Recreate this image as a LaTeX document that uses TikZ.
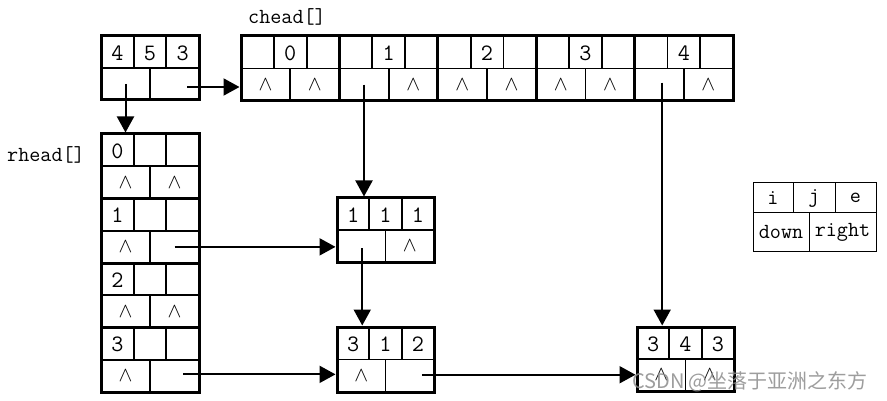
\documentclass[tikz,border=0pt]{standalone}
\usepackage{fontspec}
\newfontfamily\cjkwm{Noto Sans CJK SC}
\usetikzlibrary{arrows.meta,calc}
\tikzset{
  recbox/.style={draw, line width=3pt, inner sep=0pt, outer sep=0pt},
  legbox/.style={draw, line width=1pt, inner sep=0pt, outer sep=0pt},
  innerln/.style={line width=1.8pt},
  legln/.style={line width=1pt},
  txt/.style={font=\fontsize{21.5}{25}\ttfamily, inner sep=0pt},
  celltxt/.style={font=\fontsize{23.5}{27}\ttfamily, inner sep=0pt},
  arr/.style={line width=2pt, shorten >=1.5pt, -{Triangle[length=16pt,width=17pt]}},
}
\def\recH{64}
\newcommand\rec[8]{%
  \begin{scope}[shift={#2}]
    \pgfmathsetmacro\rwA{#3/3}%
    \pgfmathsetmacro\rwB{2*#3/3}%
    \pgfmathsetmacro\rwH{#3/2}%
    \pgfmathsetmacro\rhH{\recH/2}%
    \draw[innerln] (\rwA,0) -- (\rwA,\rhH) (\rwB,0) -- (\rwB,\rhH)
                   (0,\rhH) -- (#3,\rhH) (\rwH,\rhH) -- (\rwH,\recH);
    \node[recbox, minimum width=#3pt, minimum height={\recH pt}, anchor=north west] (#1) at (0,0) {};
    \node[celltxt] at ({\rwA/2},{\rhH/2+1}) {#4};
    \node[celltxt] at ({(\rwA+\rwB)/2},{\rhH/2+1}) {#5};
    \node[celltxt] at ({(\rwB+#3)/2},{\rhH/2+1}) {#6};
    \node[celltxt] at ({\rwH/2},{\rhH*1.5}) {#7};
    \node[celltxt] at ({\rwH*1.5},{\rhH*1.5}) {#8};
    \coordinate (#1-bl) at ({\rwH/2},{\rhH*1.5});
    \coordinate (#1-br) at ({\rwH*1.5},{\rhH*1.5});
  \end{scope}}
\newcommand\nul{\fontsize{21}{25}\selectfont$\wedge$}
\begin{document}
\begin{tikzpicture}[x=1pt,y=-1pt]
  \useasboundingbox[fill=white] (0,0) rectangle (887,401);

  % labels
  \node[txt] (lc) at (287,17) {chead[]};
  \node[txt] (lr) at (46,155) {rhead[]};

  % head node
  \rec{hd}{(101,36)}{98}{4}{5}{3}{}{}

  % chead array
  \def\recH{65}
  \rec{ch0}{(241,36)}{98.4}{}{0}{}{\nul}{\nul}
  \rec{ch1}{(339.4,36)}{98.4}{}{1}{}{}{\nul}
  \rec{ch2}{(437.8,36)}{98.4}{}{2}{}{\nul}{\nul}
  \rec{ch3}{(536.2,36)}{98.4}{}{3}{}{\nul}{\nul}
  \rec{ch4}{(634.6,36)}{98.4}{}{4}{}{}{\nul}

  % rhead array
  \def\recH{64.5}
  \rec{rh0}{(101,134)}{98}{0}{}{}{\nul}{\nul}
  \rec{rh1}{(101,198.5)}{98}{1}{}{}{\nul}{}
  \rec{rh2}{(101,263)}{98}{2}{}{}{\nul}{\nul}
  \rec{rh3}{(101,327.5)}{98}{3}{}{}{\nul}{}

  % element nodes
  \def\recH{64}
  \rec{na}{(337,198)}{97}{1}{1}{1}{}{\nul}
  \def\recH{65}
  \rec{nb}{(337,327)}{97}{3}{1}{2}{\nul}{}
  \def\recH{64}
  \rec{nc}{(637,327)}{97}{3}{4}{3}{\nul}{\nul}

  % legend
  \draw[legln] (793,183) -- (793,213) (835,183) -- (835,213)
               (753,213) -- (876,213) (809,213) -- (809,251);
  \node[legbox, minimum width=123pt, minimum height=68pt, anchor=north west] (leg) at (753,183) {};
  \node[txt] (li) at (773,198) {i};
  \node[txt] (lj) at (814,198) {j};
  \node[txt] (le) at (855.5,198) {e};
  \node[txt] (ld) at (781,232) {down};
  \node[txt] (lrt) at (842.5,232) {right};

  % pointer start points
  \coordinate (s1) at (hd-bl);
  \coordinate (s2) at ($(hd-br)+(12.5,3)$);
  \coordinate (s3) at (ch1-bl);
  \coordinate (s4) at ($(ch4-bl)+(3,-2)$);
  \coordinate (s5) at (rh1-br);
  \coordinate (s6) at ($(na-bl)+(1,2)$);
  \coordinate (s7) at ($(rh3-br)+(8.5,-1.5)$);
  \coordinate (s8) at ($(nb-br)+(12,-1)$);

  % connectors
  \draw[arr] (s1) -- (s1 |- rh0.north);
  \draw[arr] (s2) -- (s2 -| ch0.west);
  \draw[arr] (s3) -- (s3 |- na.north);
  \draw[arr] (s4) -- (s4 |- nc.north);
  \draw[arr] (s5) -- (s5 -| na.west);
  \draw[arr] (s6) -- (s6 |- nb.north);
  \draw[arr] (s7) -- (s7 -| nb.west);
  \draw[arr] (s8) -- (s8 -| nc.west);

  % watermark
  \node[font=\fontsize{20}{24}\cjkwm, text=black!45, opacity=0.85, inner sep=0pt] (wm) at (750,382) {CSDN @坐落于亚洲之东方};
\end{tikzpicture}
\end{document}
